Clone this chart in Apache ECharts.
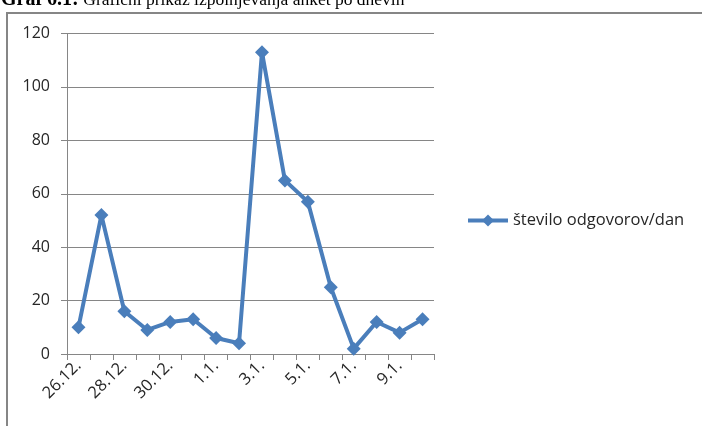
<!DOCTYPE html>
<html>
<head>
<meta charset="utf-8">
<script src="https://cdn.jsdelivr.net/npm/echarts@6/dist/echarts.min.js"></script>
<style>
  html, body { margin: 0; padding: 0; background: #fff; }
  #chart { width: 702px; height: 426px; }
</style>
</head>
<body>
<div id="chart"></div>
<script>
// Days of the survey period
const days = ['26.12.', '27.12.', '28.12.', '29.12.', '30.12.', '31.12.', '1.1.', '2.1.',
              '3.1.', '4.1.', '5.1.', '6.1.', '7.1.', '8.1.', '9.1.', '10.1.'];
// Responses received per day
const responses = [10, 52, 16, 9, 12, 13, 6, 4, 113, 65, 57, 25, 2, 12, 8, 13];
const seriesName = 'število odgovorov/dan';
const yTicks = { min: 0, max: 120, step: 20 };

const blue = '#4a7ebb';
const grey = '#868686';
const textColor = '#262626';
const font = '"Open Sans", Lato, sans-serif';

const chart = echarts.init(document.getElementById('chart'), null, { renderer: 'canvas' });
chart.setOption({
  animation: false,
  backgroundColor: '#fff',
  graphic: [
    {
      type: 'rect', z: -1,
      shape: { x: 7, y: 13, width: 760, height: 460 },
      style: { fill: '#fff', stroke: grey, lineWidth: 2 }
    },
    {
      type: 'text', left: 1, top: -10,
      style: {
        text: '{b|Graf 6.1:} {r|Grafični prikaz izpolnjevanja anket po dnevih}',
        font: '18px "Liberation Serif", serif',
        fill: '#000',
        rich: {
          b: { fontWeight: 'bold', fontFamily: '"Liberation Serif", serif', fontSize: 20, fill: '#000' },
          r: { fontFamily: '"Liberation Serif", serif', fontSize: 17.5, fill: '#000' }
        }
      }
    }
  ],
  grid: { left: 67, top: 33.5, right: 268, bottom: 72, containLabel: false },
  legend: {
    data: [seriesName],
    left: 461, top: 207,
    itemWidth: 40, itemHeight: 15, itemGap: 5,
    lineStyle: { width: 4 },
    textStyle: { fontFamily: font, fontSize: 16.5, color: textColor }
  },
  xAxis: {
    type: 'category',
    data: days,
    boundaryGap: true,
    axisLine: { lineStyle: { color: grey, width: 1 } },
    axisTick: { show: true, interval: 0, length: 6, lineStyle: { color: grey } },
    axisLabel: {
      interval: 1, rotate: 45, margin: 9,
      fontFamily: font, fontSize: 16.5, color: textColor
    }
  },
  yAxis: {
    type: 'value',
    min: yTicks.min, max: yTicks.max, interval: yTicks.step,
    axisLine: { show: true, lineStyle: { color: grey, width: 1 } },
    axisTick: { show: true, length: 6, lineStyle: { color: grey } },
    axisLabel: { margin: 17, fontFamily: font, fontSize: 16, color: textColor },
    splitLine: { lineStyle: { color: grey, width: 1 } }
  },
  series: [{
    name: seriesName,
    type: 'line',
    data: responses,
    symbol: 'diamond',
    symbolSize: 14,
    lineStyle: { color: blue, width: 4 },
    itemStyle: { color: blue },
    emphasis: { disabled: true }
  }]
});
</script>
</body>
</html>
